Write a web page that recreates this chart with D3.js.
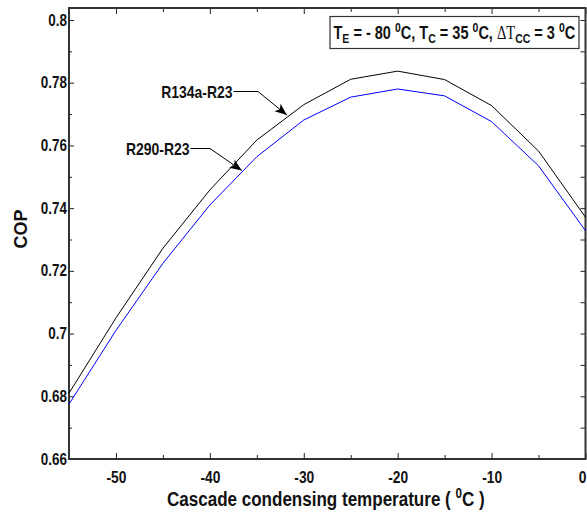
<!DOCTYPE html>
<html lang="en">
<head>
    <meta charset="UTF-8">
    <title>COP vs cascade condensing temperature</title>
    <script src="https://d3js.org/d3.v7.min.js"></script>
    <style>
        body { margin: 0; background: #fff; }
        svg { display: block; font-family: "Liberation Sans", Arial, sans-serif; font-weight: bold; }
        .axis path { display: none; }
        .axis line { stroke: #222; stroke-width: 1; }
        .axis text { font-size: 16px; fill: #111; font-family: "Liberation Sans", Arial, sans-serif; font-weight: bold; }
    </style>
</head>
<body>
    <svg width="587" height="513"></svg>
    <script>
        // data
        const temps = [-55, -50, -45, -40, -35, -30, -25, -20, -15, -10, -5, 0];
        const copR134a = [0.681, 0.7050, 0.7272, 0.7458, 0.7617, 0.7730, 0.7811, 0.7837, 0.7810, 0.7727, 0.7582, 0.7371];
        const copR290 = [0.6775, 0.7010, 0.7224, 0.7410, 0.7564, 0.7681, 0.7754, 0.7780, 0.7758, 0.7676, 0.7535, 0.7328];
        const xMajor = [-50, -40, -30, -20, -10, 0];
        const xMinor = [-55, -45, -35, -25, -15, -5];
        const yMajor = [0.66, 0.68, 0.70, 0.72, 0.74, 0.76, 0.78, 0.80];
        const yMinor = [0.67, 0.69, 0.71, 0.73, 0.75, 0.77, 0.79];

        const svg = d3.select("svg");
        const mLeft = 69, mRight = 585.5, mTop = 8, mBottom = 459;

        const x = d3.scaleLinear().domain([-55, 0]).range([mLeft, mRight]);
        const y = d3.scaleLinear().domain([0.66, 0.80]).range([mBottom, 20]);
        const fmt = d => String(+d.toFixed(2));

        // the original uses a narrow bold face; squeeze glyphs to match
        function condense(sel, k) {
            sel.each(function () {
                const w = this.getComputedTextLength();
                d3.select(this).attr("textLength", w * k).attr("lengthAdjust", "spacingAndGlyphs");
            });
        }
        // squeeze a multi-part text horizontally to a given width, anchored at its left edge
        function fitWidth(g, x0, y0, width) {
            const w = g.node().getBBox().width;
            g.attr("transform", `translate(${x0},${y0}) scale(${width / w},1)`);
        }

        // bottom axis, ticks pointing in
        const xAx = svg.append("g").attr("class", "axis")
            .attr("transform", `translate(0,${mBottom})`)
            .call(d3.axisBottom(x).tickValues(xMajor).tickSize(-6).tickPadding(13).tickFormat(d => String(d)));
        condense(xAx.selectAll(".tick text"), 0.86);
        // last label sits on the page edge: keep it inside
        xAx.selectAll(".tick text").filter(d => d === 0).attr("text-anchor", "end").attr("x", 0.5);
        svg.append("g").attr("class", "axis")
            .attr("transform", `translate(0,${mBottom})`)
            .call(d3.axisBottom(x).tickValues(xMinor).tickSize(-4).tickFormat(""));
        // top axis
        svg.append("g").attr("class", "axis")
            .attr("transform", `translate(0,${mTop})`)
            .call(d3.axisTop(x).tickValues(xMajor).tickSize(-6).tickFormat(""));
        svg.append("g").attr("class", "axis")
            .attr("transform", `translate(0,${mTop})`)
            .call(d3.axisTop(x).tickValues(xMinor).tickSize(-4).tickFormat(""));

        // left axis
        const yAx = svg.append("g").attr("class", "axis")
            .attr("transform", `translate(${mLeft},0)`)
            .call(d3.axisLeft(y).tickValues(yMajor).tickSize(-5).tickPadding(2).tickFormat(fmt));
        condense(yAx.selectAll(".tick text"), 0.84);
        svg.append("g").attr("class", "axis")
            .attr("transform", `translate(${mLeft},0)`)
            .call(d3.axisLeft(y).tickValues(yMinor).tickSize(-3).tickFormat(""));
        // right axis
        svg.append("g").attr("class", "axis")
            .attr("transform", `translate(${mRight},0)`)
            .call(d3.axisRight(y).tickValues(yMajor.concat(yMinor)).tickSize(-5).tickFormat(""));

        // frame
        svg.append("rect")
            .attr("x", mLeft).attr("y", mTop)
            .attr("width", mRight - mLeft).attr("height", mBottom - mTop)
            .attr("fill", "none").attr("stroke", "#333").attr("stroke-width", 2);

        // curves
        const line = d3.line().x(d => x(d[0])).y(d => y(d[1]));
        svg.append("path")
            .datum(d3.zip(temps, copR134a))
            .attr("d", line).attr("fill", "none").attr("stroke", "#000").attr("stroke-width", 1);
        svg.append("path")
            .datum(d3.zip(temps, copR290))
            .attr("d", line).attr("fill", "none").attr("stroke", "#0000ff").attr("stroke-width", 1);

        // arrow annotations
        svg.append("defs").append("marker")
            .attr("id", "arr").attr("viewBox", "0 0 10 10")
            .attr("refX", 10).attr("refY", 5)
            .attr("markerWidth", 12).attr("markerHeight", 12)
            .attr("markerUnits", "userSpaceOnUse")
            .attr("orient", "auto")
            .append("path").attr("d", "M0,1 L10,5 L0,9 L2.5,5 Z").attr("fill", "#000");

        const notes = [
            { label: "R134a-R23", tx: 232.5, ty: 91.5, kx: 258, tip: [-31.8, 0.7697] },
            { label: "R290-R23", tx: 189.5, ty: 148.5, kx: 210, tip: [-36.6, 0.7520] }
        ];
        notes.forEach(n => {
            const t = svg.append("text")
                .attr("x", n.tx).attr("y", n.ty).attr("dy", "0.36em")
                .attr("text-anchor", "end").attr("font-size", 17).attr("fill", "#111")
                .text(n.label);
            condense(t, 0.82);
            svg.append("polyline")
                .attr("points", `${n.tx + 1},${n.ty} ${n.kx},${n.ty} ${x(n.tip[0])},${y(n.tip[1])}`)
                .attr("fill", "none").attr("stroke", "#000").attr("stroke-width", 1)
                .attr("marker-end", "url(#arr)");
        });

        // condition box
        svg.append("rect")
            .attr("x", 330).attr("y", 16.5).attr("width", 249).attr("height", 32)
            .attr("fill", "#fff").attr("stroke", "#333").attr("stroke-width", 1.2);
        const cond = svg.append("text").attr("font-size", 18).attr("fill", "#111");
        cond.append("tspan").text("T");
        cond.append("tspan").attr("font-size", 13).attr("dy", 4).text("E");
        cond.append("tspan").attr("dy", -4).text(" = - 80  ");
        cond.append("tspan").attr("font-size", 13).attr("dy", -7).text("0");
        cond.append("tspan").attr("dy", 7).text("C,  T");
        cond.append("tspan").attr("font-size", 13).attr("dy", 4).text("C");
        cond.append("tspan").attr("dy", -4).text(" = 35 ");
        cond.append("tspan").attr("font-size", 13).attr("dy", -7).text("0");
        cond.append("tspan").attr("dy", 7).text("C, ");
        cond.append("tspan").attr("font-family", "'Liberation Serif', serif").attr("font-weight", "normal").attr("font-size", 18).text("\u0394T");
        cond.append("tspan").attr("font-size", 13).attr("dy", 4).text("CC");
        cond.append("tspan").attr("dy", -4).text(" = 3 ");
        cond.append("tspan").attr("font-size", 13).attr("dy", -7).text("0");
        cond.append("tspan").attr("dy", 7).text("C");
        fitWidth(cond, 333.5, 39, 242);

        // axis titles
        const xt = svg.append("text").attr("font-size", 20.5).attr("fill", "#111");
        xt.append("tspan").text("Cascade condensing temperature ( ");
        xt.append("tspan").attr("font-size", 14).attr("dy", -8).text("0");
        xt.append("tspan").attr("dy", 8).text("C )");
        fitWidth(xt, 167, 506, 318);

        svg.append("text")
            .attr("transform", `translate(27,229) rotate(-90)`)
            .attr("text-anchor", "middle").attr("font-size", 18).attr("fill", "#111")
            .text("COP");
    </script>
</body>
</html>
